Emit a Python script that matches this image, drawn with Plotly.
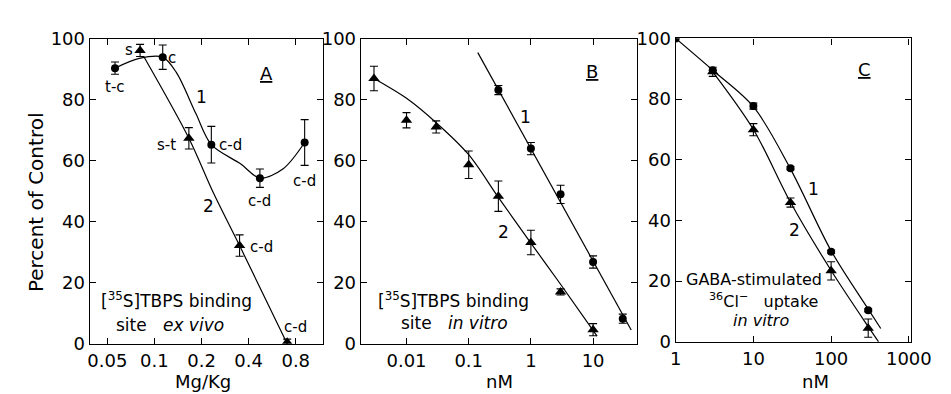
import plotly.graph_objects as go

# ---------------- data ----------------
# Panel A (dose, Mg/Kg)
a_c_x = [0.056, 0.113, 0.231, 0.472, 0.912]
a_c_y = [90.4, 94.0, 65.3, 54.3, 66.0]
a_c_err = [2, 4, 6, 3, 7.5]
a_t_x = [0.081, 0.166, 0.350, 0.705]
a_t_y = [96.2, 67.4, 32.2, 0.5]
a_t_err = [2, 3.5, 3.5, 1]
a_fit1_x = [0.056, 0.08, 0.113, 0.138, 0.184, 0.231, 0.355, 0.472, 0.665, 0.912]
a_fit1_y = [90.4, 93.6, 94.0, 89.0, 75.5, 65.3, 59.0, 54.3, 57.4, 66.0]
a_fit2_x = [0.0853, 0.166, 0.238, 0.350, 0.705]
a_fit2_y = [94.3, 67.4, 49.5, 32.2, 0.0]

# Panel B (nM)
b_c_x = [0.3, 1, 3, 10, 30]
b_c_y = [83.2, 64.0, 49.0, 26.8, 8.2]
b_c_err = [1.5, 2, 3, 2, 1.5]
b_t_x = [0.003, 0.01, 0.03, 0.1, 0.3, 1, 3, 10]
b_t_y = [87.0, 73.3, 71.1, 58.7, 48.4, 33.2, 17.0, 4.6]
b_t_err = [4, 2.5, 2, 4.5, 5, 4, 1, 2]
b_fit1_x = [0.14, 1, 10, 41]
b_fit1_y = [95.5, 64.0, 27.1, 4.5]
b_fit2_x = [0.003, 0.01, 0.03, 0.1, 0.3, 1, 3, 11.6]
b_fit2_y = [87.0, 80.5, 72.5, 62.0, 48.0, 33.0, 19.5, 2.5]

# Panel C (nM)
c_c_x = [1, 3, 10, 30, 100, 300]
c_c_y = [100.0, 89.5, 77.7, 57.2, 29.7, 10.4]
c_c_err = [0, 0, 1, 0.5, 0.5, 0.5]
c_t_x = [3, 10, 30, 100, 300]
c_t_y = [89.0, 69.9, 45.9, 23.4, 4.5]
c_t_err = [1.5, 2, 1.5, 3, 3]
c_fit1_x = [1, 3, 10, 30, 100, 300, 435]
c_fit1_y = [100.0, 89.5, 77.5, 57.0, 30.0, 10.8, 4.4]
c_fit2_x = [3, 10, 30, 100, 300, 408]
c_fit2_y = [89.0, 70.0, 46.0, 23.5, 5.0, 0.0]

a_ticks = [0.05, 0.1, 0.2, 0.4, 0.8]
a_ticktext = ["0.05", "0.1", "0.2", "0.4", "0.8"]
b_ticks = [0.01, 0.1, 1, 10]
b_ticktext = ["0.01", "0.1", "1", "10"]
c_ticks = [1, 10, 100, 1000]
c_ticktext = ["1", "10", "100", "1000"]
y_ticks = [0, 20, 40, 60, 80, 100]

# ---------------- figure ----------------
W, H = 951, 394
FONT = "DejaVu Sans"

def px(x):
    return x / W

def py(y):
    return 1 - y / H

fig = go.Figure()

def add_panel(n, fit1, fit2, circ, tri, fit1_shape, fit2_shape):
    xa = "x" if n == 1 else f"x{n}"
    ya = "y" if n == 1 else f"y{n}"
    for fx, fy, sh in ((fit1[0], fit1[1], fit1_shape), (fit2[0], fit2[1], fit2_shape)):
        fig.add_trace(go.Scatter(x=fx, y=fy, mode="lines", xaxis=xa, yaxis=ya,
                                 line=dict(color="black", width=1.2, shape=sh, smoothing=0.9),
                                 hoverinfo="skip", showlegend=False))
    fig.add_trace(go.Scatter(x=circ[0], y=circ[1], mode="markers", xaxis=xa, yaxis=ya,
                             marker=dict(symbol="circle", size=8, color="black"),
                             error_y=dict(type="data", array=circ[2], color="black", thickness=1.1, width=4),
                             showlegend=False))
    fig.add_trace(go.Scatter(x=tri[0], y=tri[1], mode="markers", xaxis=xa, yaxis=ya,
                             marker=dict(symbol="triangle-up", size=10, color="black"),
                             error_y=dict(type="data", array=tri[2], color="black", thickness=1.1, width=4),
                             showlegend=False))

add_panel(1, (a_fit1_x, a_fit1_y), (a_fit2_x, a_fit2_y), (a_c_x, a_c_y, a_c_err), (a_t_x, a_t_y, a_t_err), "spline", "spline")
add_panel(2, (b_fit1_x, b_fit1_y), (b_fit2_x, b_fit2_y), (b_c_x, b_c_y, b_c_err), (b_t_x, b_t_y, b_t_err), "linear", "spline")
add_panel(3, (c_fit1_x, c_fit1_y), (c_fit2_x, c_fit2_y), (c_c_x, c_c_y, c_c_err), (c_t_x, c_t_y, c_t_err), "spline", "spline")

def xaxis(dom, rng, tv, tt, anchor):
    return dict(type="log", domain=dom, range=rng, tickvals=tv, ticktext=tt, anchor=anchor,
                showline=True, mirror="ticks", linecolor="black", linewidth=1.4,
                ticks="inside", ticklen=6, tickcolor="black", tickwidth=1,
                showgrid=False, zeroline=False,
                tickfont=dict(family=FONT, size=18, color="black"))

def yaxis(dom, anchor):
    return dict(domain=dom, range=[0, 100], tickvals=y_ticks, anchor=anchor,
                showline=True, mirror="ticks", linecolor="black", linewidth=1.4,
                ticks="inside", ticklen=6, tickcolor="black", tickwidth=1,
                showgrid=False, zeroline=False,
                tickfont=dict(family=FONT, size=18, color="black"))

ydomAB = [py(343), py(21)]
ydomC = [py(341), py(20.5)]

fig.update_layout(
    width=W, height=H,
    margin=dict(l=0, r=0, t=0, b=0),
    paper_bgcolor="white", plot_bgcolor="white",
    font=dict(family=FONT, color="black"),
    xaxis=xaxis([px(78), px(318)], [-1.413, 0.077], a_ticks, a_ticktext, "y"),
    yaxis=yaxis(ydomAB, "x"),
    xaxis2=xaxis([px(357), px(641)], [-2.734, 1.703], b_ticks, b_ticktext, "y2"),
    yaxis2=yaxis(ydomAB, "x2"),
    xaxis3=xaxis([px(681), px(923)], [0, 3.025], c_ticks, c_ticktext, "y3"),
    yaxis3=yaxis(ydomC, "x3"),
)

def note(text, x, y, size=15, **kw):
    fig.add_annotation(text=text, x=px(x), y=py(y), xref="paper", yref="paper",
                       showarrow=False, xanchor="center", yanchor="middle",
                       font=dict(family=FONT, size=size, color="black"), **kw)

# axis titles
note("Percent of Control", 22, 193, size=20, textangle=-90)
note("Mg/Kg", 195, 383, size=18)
note("nM", 500, 383, size=18)
note("nM", 825, 383, size=18)

# panel A labels
note("t-c", 104, 72)
note("s", 118, 33)
note("c", 163, 41)
note("1", 193, 82, size=17)
note("s-t", 157, 133)
note("c-d", 223, 133)
note("c-d", 253, 192)
note("c-d", 299, 171)
note("2", 200, 197, size=17)
note("c-d", 255, 241)
note("c-d", 290, 325)
note("<u>A</u>", 260, 58, size=18)
note("[<sup>35</sup>S]TBPS binding", 167, 297, size=17)
note("site\u00a0\u00a0\u00a0<i>ex vivo</i>", 161, 323, size=17)

# panel B labels
note("<u>B</u>", 595, 55, size=18)
note("1", 526, 103, size=17)
note("2", 504, 225, size=17)
note("[<sup>35</sup>S]TBPS binding", 452, 297, size=17)
note("site\u00a0\u00a0\u00a0<i>in vitro</i>", 453, 321, size=17)

# panel C labels
note("<u>C</u>", 875, 53, size=18)
note("1", 823, 180, size=17)
note("2", 803, 223, size=17)
note("GABA-stimulated", 762, 275, size=16)
note("<sup>36</sup>Cl<sup>\u2212</sup>\u00a0\u00a0\u00a0uptake", 771, 297, size=16)
note("<i>in vitro</i>", 769, 318, size=16)

fig.write_html("out.html")
